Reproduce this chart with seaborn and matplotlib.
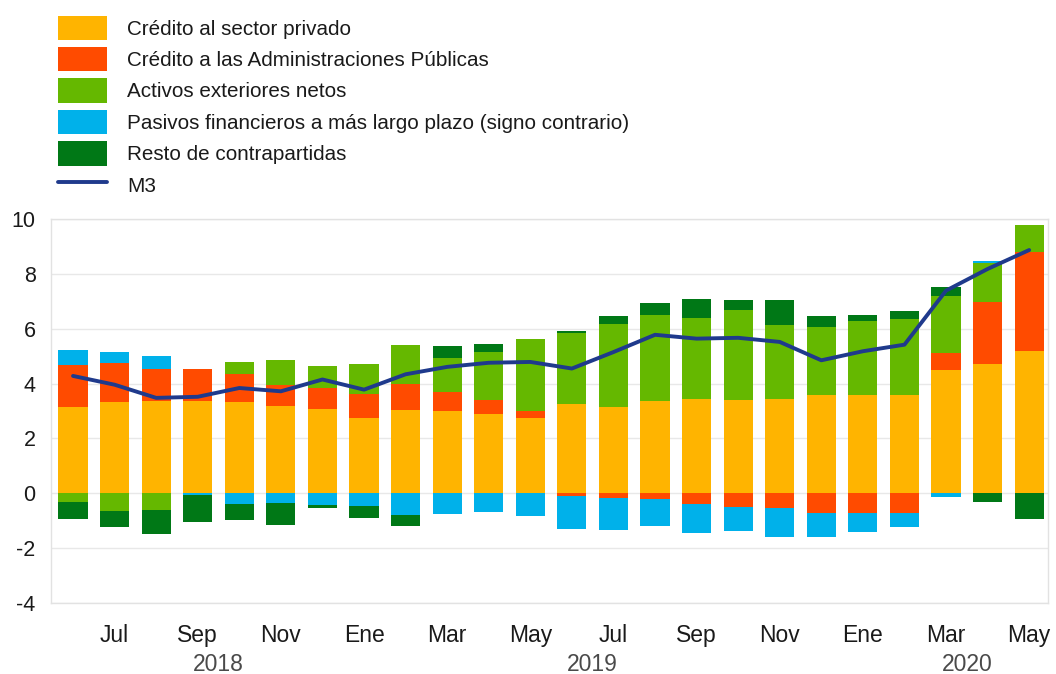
import numpy as np
import pandas as pd
import matplotlib
matplotlib.use("Agg")
import matplotlib.pyplot as plt
import matplotlib.transforms as mtransforms
from matplotlib.patches import Patch
from matplotlib.lines import Line2D
import seaborn as sns

# ---------------- data ----------------
months = ["Jun 2018", "Jul 2018", "Ago 2018", "Sep 2018", "Oct 2018", "Nov 2018",
          "Dic 2018", "Ene 2019", "Feb 2019", "Mar 2019", "Abr 2019", "May 2019",
          "Jun 2019", "Jul 2019", "Ago 2019", "Sep 2019", "Oct 2019", "Nov 2019",
          "Dic 2019", "Ene 2020", "Feb 2020", "Mar 2020", "Abr 2020", "May 2020"]

credito_privado = [3.15, 3.33, 3.36, 3.36, 3.33, 3.18, 3.09, 2.76, 3.03, 3.01, 2.91, 2.76,
                   3.25, 3.15, 3.36, 3.43, 3.42, 3.43, 3.60, 3.60, 3.60, 4.51, 4.70, 5.19]
credito_aapp = [1.54, 1.42, 1.19, 1.19, 1.03, 0.76, 0.75, 0.87, 0.95, 0.69, 0.48, 0.24,
                -0.08, -0.18, -0.22, -0.40, -0.51, -0.55, -0.70, -0.73, -0.73, 0.61, 2.27, 3.60]
activos_ext = [-0.30, -0.63, -0.61, 0.00, 0.43, 0.91, 0.80, 1.07, 1.41, 1.25, 1.76, 2.61,
               2.61, 3.01, 3.15, 2.96, 3.25, 2.72, 2.48, 2.68, 2.76, 2.09, 1.43, 1.00]
pasivos_lp = [0.52, 0.40, 0.44, -0.05, -0.39, -0.36, -0.42, -0.46, -0.79, -0.76, -0.69, -0.82,
              -1.22, -1.15, -0.97, -1.03, -0.88, -1.03, -0.91, -0.67, -0.51, -0.12, 0.06, 0.00]
resto = [-0.65, -0.58, -0.88, -0.98, -0.58, -0.79, -0.12, -0.45, -0.40, 0.42, 0.28, 0.00,
         0.05, 0.30, 0.42, 0.68, 0.38, 0.90, 0.37, 0.23, 0.27, 0.33, -0.30, -0.95]
m3 = [4.28, 3.96, 3.48, 3.52, 3.84, 3.72, 4.15, 3.78, 4.34, 4.61, 4.76, 4.79,
      4.55, 5.15, 5.78, 5.64, 5.67, 5.52, 4.85, 5.18, 5.42, 7.39, 8.18, 8.87]

month_ticks = ["Jul", "Sep", "Nov", "Ene", "Mar", "May",
               "Jul", "Sep", "Nov", "Ene", "Mar", "May"]
years = ["2018", "2019", "2020"]

labels = ["Crédito al sector privado",
          "Crédito a las Administraciones Públicas",
          "Activos exteriores netos",
          "Pasivos financieros a más largo plazo (signo contrario)",
          "Resto de contrapartidas",
          "M3"]
colors = ["#FFB400", "#FF4B00", "#65B800", "#00B1EA", "#007816"]
line_color = "#1F3A8C"

# ---------------- style ----------------
sns.set_theme(style="white")
plt.rcParams["font.family"] = ["Liberation Sans", "DejaVu Sans"]
text_color = "#1a1a1a"
year_color = "#4a4a4a"

fig = plt.figure(figsize=(10.56, 6.74), dpi=100)
ax = fig.add_axes([0.0483, 0.1053, 0.944, 0.5697])

n = len(months)
x = np.arange(n)
pos = np.zeros(n)
neg = np.zeros(n)
for vals, col in zip([credito_privado, credito_aapp, activos_ext, pasivos_lp, resto], colors):
    v = np.array(vals, dtype=float)
    p = np.where(v > 0, v, 0.0)
    q = np.where(v < 0, v, 0.0)
    ax.bar(x, p, bottom=pos, width=0.7, color=col, linewidth=0, zorder=2)
    ax.bar(x, q, bottom=neg, width=0.7, color=col, linewidth=0, zorder=2)
    pos += p
    neg += q

df_m3 = pd.DataFrame({"x": x, "m3": m3})
sns.lineplot(data=df_m3, x="x", y="m3", ax=ax, color=line_color, linewidth=2.8, zorder=3)

ax.set_xlim(-0.53, 23.45)
ax.set_ylim(-4, 10)
ax.set_yticks(np.arange(-4, 11, 2))
ax.set_yticklabels([str(v) for v in range(-4, 11, 2)])
ax.set_xticks(x[1::2])
ax.set_xticklabels(month_ticks)
ax.tick_params(axis="x", length=0, pad=15, labelsize=16.5, labelcolor=text_color)
ax.tick_params(axis="y", length=0, pad=11, labelsize=15.5, labelcolor=text_color)
ax.set_xlabel("")
ax.set_ylabel("")
ax.grid(axis="y", color="#e8e8e8", linewidth=1.0, zorder=0)
ax.set_axisbelow(True)
for s in ax.spines.values():
    s.set_visible(True)
    s.set_color("#e2e2e2")
    s.set_linewidth(1.0)

trans = mtransforms.blended_transform_factory(ax.transData, ax.transAxes)
for xp, yr in zip([3.5, 12.5, 21.5], years):
    ax.text(xp, -0.16, yr, transform=trans, ha="center", va="center",
            fontsize=16.5, color=year_color)

handles = [Patch(facecolor=c, edgecolor="none") for c in colors]
handles.append(Line2D([0], [0], color=line_color, linewidth=2.8))
leg = fig.legend(handles, labels, loc="upper left", bbox_to_anchor=(0.055, 0.977),
                 frameon=False, fontsize=14.9, handlelength=2.35, handleheight=1.45,
                 handletextpad=1.0, labelspacing=0.33, borderpad=0, borderaxespad=0)
for t in leg.get_texts():
    t.set_color(text_color)

fig.savefig("out.png", dpi=100)
